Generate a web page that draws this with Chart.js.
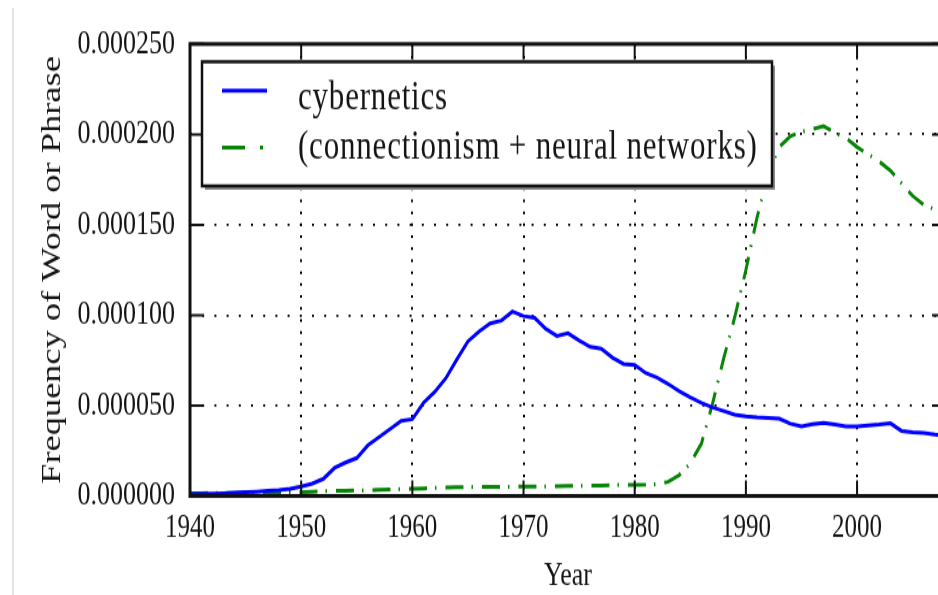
<!DOCTYPE html>
<html lang="en">
<head>
<meta charset="UTF-8">
<title>Cybernetics vs Connectionism</title>
<script src="https://cdn.jsdelivr.net/npm/chart.js"></script>
<style>
    body { margin: 0; background: #fff; overflow: hidden; width: 938px; height: 595px; position: relative; }
    /* the reference figure is stretched vertically and soft, so the canvas is too */
    #wrap { position: absolute; left: 0; top: 0; width: 960px; height: 458px; transform: scaleY(1.3); transform-origin: 0 0; filter: blur(0.5px); }
    #edge { position: absolute; left: 12px; top: 8px; width: 2px; height: 587px; background: #e4e4e4; }
</style>
</head>
<body>
<div id="edge"></div>
<div id="wrap"><canvas id="chart" width="960" height="458"></canvas></div>

<script>
    const years = [1940, 1941, 1942, 1943, 1944, 1945, 1946, 1947, 1948, 1949,
                   1950, 1951, 1952, 1953, 1954, 1955, 1956, 1957, 1958, 1959,
                   1960, 1961, 1962, 1963, 1964, 1965, 1966, 1967, 1968, 1969,
                   1970, 1971, 1972, 1973, 1974, 1975, 1976, 1977, 1978, 1979,
                   1980, 1981, 1982, 1983, 1984, 1985, 1986, 1987, 1988, 1989,
                   1990, 1991, 1992, 1993, 1994, 1995, 1996, 1997, 1998, 1999,
                   2000, 2001, 2002, 2003, 2004, 2005, 2006, 2007, 2008];

    const cybernetics = [
        0.0000010, 0.0000012, 0.0000013, 0.0000015, 0.0000018, 0.0000021, 0.0000024, 0.0000028, 0.0000033, 0.0000040,
        0.0000052, 0.0000068, 0.0000095, 0.0000155, 0.0000185, 0.0000210, 0.0000280, 0.0000325, 0.0000370, 0.0000415,
        0.0000425, 0.0000515, 0.0000575, 0.0000650, 0.0000755, 0.0000855, 0.0000910, 0.0000955, 0.0000970, 0.0001020,
        0.0000995, 0.0000985, 0.0000925, 0.0000885, 0.0000900, 0.0000860, 0.0000825, 0.0000815, 0.0000765, 0.0000730,
        0.0000725, 0.0000680, 0.0000655, 0.0000620, 0.0000580, 0.0000545, 0.0000515, 0.0000490, 0.0000470, 0.0000450,
        0.0000440, 0.0000435, 0.0000432, 0.0000428, 0.0000400, 0.0000385, 0.0000398, 0.0000405, 0.0000395, 0.0000385,
        0.0000385, 0.0000390, 0.0000395, 0.0000402, 0.0000360, 0.0000352, 0.0000348, 0.0000340, 0.0000335];

    const connectionism = [
        0.0000015, 0.0000015, 0.0000016, 0.0000016, 0.0000017, 0.0000018, 0.0000018, 0.0000019, 0.0000020, 0.0000021,
        0.0000022, 0.0000024, 0.0000026, 0.0000028, 0.0000029, 0.0000030, 0.0000032, 0.0000034, 0.0000036, 0.0000038,
        0.0000040, 0.0000042, 0.0000044, 0.0000046, 0.0000048, 0.0000049, 0.0000050, 0.0000050, 0.0000051, 0.0000051,
        0.0000052, 0.0000052, 0.0000053, 0.0000054, 0.0000055, 0.0000056, 0.0000057, 0.0000058, 0.0000060, 0.0000061,
        0.0000062, 0.0000063, 0.0000066, 0.0000078, 0.0000115, 0.0000180, 0.0000290, 0.0000510, 0.0000760, 0.0000990,
        0.0001250, 0.0001540, 0.0001780, 0.0001930, 0.0001990, 0.0002015, 0.0002030, 0.0002045, 0.0002010, 0.0001980,
        0.0001930, 0.0001890, 0.0001850, 0.0001800, 0.0001730, 0.0001660, 0.0001610, 0.0001585, 0.0001555];

    const xTicks = [1940, 1950, 1960, 1970, 1980, 1990, 2000];
    const yTicks = [0, 0.00005, 0.0001, 0.00015, 0.0002, 0.00025];

    const serif = '"Liberation Serif", "Times New Roman", serif';

    // matplotlib style frame with ticks pointing inwards
    const frame = {
        id: 'frame',
        afterDatasetsDraw(chart) {
            const { ctx, chartArea: a, scales: { x, y } } = chart;
            ctx.save();
            ctx.strokeStyle = '#111';
            ctx.lineWidth = 2;
            xTicks.forEach(v => {
                const px = x.getPixelForValue(v);
                ctx.beginPath();
                ctx.moveTo(px, a.bottom); ctx.lineTo(px, a.bottom - 12);
                ctx.moveTo(px, a.top); ctx.lineTo(px, a.top + 12);
                ctx.stroke();
            });
            yTicks.forEach(v => {
                const py = y.getPixelForValue(v);
                ctx.beginPath();
                ctx.moveTo(a.left, py); ctx.lineTo(a.left + 14, py);
                ctx.moveTo(a.right, py); ctx.lineTo(a.right - 14, py);
                ctx.stroke();
            });
            ctx.lineWidth = 3;
            ctx.strokeRect(a.left, a.top, a.right - a.left, a.bottom - a.top);
            ctx.restore();
        }
    };

    // boxed legend inside the plot, upper left
    const boxLegend = {
        id: 'boxLegend',
        afterDraw(chart) {
            const ctx = chart.ctx;
            const bx = 202, by = 47.5, bw = 570, bh = 95.5;
            const rows = [69.8, 113.6];
            const baselines = [83.8, 122.3];
            ctx.save();
            ctx.fillStyle = '#8a8a8a';
            ctx.fillRect(bx + 3, by + 3, bw, bh);
            ctx.fillStyle = '#fff';
            ctx.fillRect(bx, by, bw, bh);
            ctx.strokeStyle = '#111';
            ctx.lineWidth = 2.5;
            ctx.strokeRect(bx, by, bw, bh);
            chart.data.datasets.forEach((ds, i) => {
                ctx.strokeStyle = ds.borderColor;
                ctx.lineWidth = ds.borderWidth;
                ctx.setLineDash(ds.legendDash || []);
                ctx.beginPath();
                ctx.moveTo(222, rows[i]);
                ctx.lineTo(267, rows[i]);
                ctx.stroke();
                ctx.setLineDash([]);
                ctx.fillStyle = '#141414';
                ctx.font = '31px ' + serif;
                ctx.letterSpacing = '0.8px';
                ctx.textBaseline = 'alphabetic';
                ctx.fillText(ds.label, 298, baselines[i]);
            });
            ctx.restore();
        }
    };

    new Chart(document.getElementById('chart'), {
        type: 'line',
        data: {
            datasets: [{
                label: 'cybernetics',
                data: years.map((yr, i) => ({ x: yr, y: cybernetics[i] })),
                borderColor: '#0000ff',
                borderWidth: 3,
                pointRadius: 0,
                tension: 0
            }, {
                label: '(connectionism + neural networks)',
                data: years.map((yr, i) => ({ x: yr, y: connectionism[i] })),
                borderColor: '#078507',
                borderWidth: 3,
                borderDash: [18, 8, 1.5, 9],
                legendDash: [23, 15, 3, 10],
                pointRadius: 0,
                tension: 0
            }]
        },
        plugins: [frame, boxLegend],
        options: {
            responsive: false,
            animation: false,
            devicePixelRatio: 1,
            layout: { padding: { left: 0, top: 33.85, right: 14, bottom: 0 } },
            plugins: {
                legend: { display: false },
                tooltip: { enabled: false }
            },
            scales: {
                x: {
                    type: 'linear',
                    min: 1940,
                    max: 2008,
                    afterBuildTicks: scale => { scale.ticks = xTicks.map(v => ({ value: v })); },
                    afterFit: scale => { scale.height = 76.5; },
                    grid: { color: '#000', lineWidth: 2, drawTicks: false },
                    border: { display: false, dash: [2, 7.2] },
                    ticks: {
                        color: '#141414',
                        font: { family: serif, size: 25 },
                        padding: 10,
                        maxRotation: 0,
                        autoSkip: false,
                        callback: v => String(v)
                    },
                    title: {
                        display: true,
                        text: 'Year',
                        color: '#141414',
                        font: { family: serif, size: 26, lineHeight: 1 },
                        padding: { top: 0, bottom: 2 }
                    }
                },
                y: {
                    min: 0,
                    max: 0.00025,
                    afterBuildTicks: scale => { scale.ticks = yTicks.map(v => ({ value: v })); },
                    afterFit: scale => { scale.width = 190; },
                    grid: { color: '#000', lineWidth: 1.8, drawTicks: false },
                    border: { display: false, dash: [2, 10.2] },
                    ticks: {
                        color: '#141414',
                        font: { family: serif, size: 26 },
                        padding: 15,
                        callback: v => v.toFixed(6)
                    },
                    title: {
                        display: true,
                        text: 'Frequency of Word or Phrase',
                        color: '#141414',
                        font: { family: serif, size: 28, lineHeight: 1.2 },
                        padding: { top: 36, bottom: 0 }
                    }
                }
            }
        }
    });
</script>
</body>
</html>
